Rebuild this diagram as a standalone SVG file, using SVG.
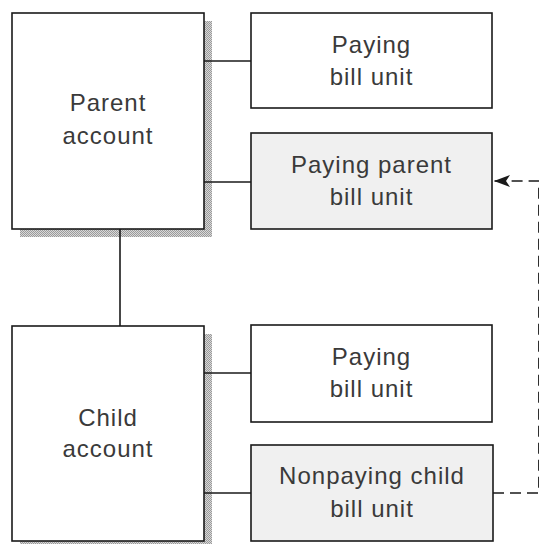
<svg xmlns="http://www.w3.org/2000/svg" width="539" height="544" viewBox="0 0 539 544">
  <style>
    .box { stroke: #1a1a1a; stroke-width: 1.6; }
    .acct { fill: #ffffff; }
    .unit { fill: #ffffff; }
    .unit-alt { fill: #f0f0f0; }
    .shadow { fill: url(#hatch); }
    .label { font-family: "Liberation Sans", Arial, sans-serif; font-size: 24px; letter-spacing: 1px; fill: #3a3a3a; text-anchor: middle; }
    .link { stroke: #1a1a1a; stroke-width: 1.6; fill: none; }
    .dash { stroke: #1a1a1a; stroke-width: 1.4; fill: none; stroke-dasharray: 11 6; }
  </style>
  <defs>
    <pattern id="hatch" width="2" height="2" patternUnits="userSpaceOnUse">
      <rect width="2" height="2" fill="#d8d8d8"/>
      <rect width="1" height="1" fill="#9a9a9a"/>
      <rect x="1" y="1" width="1" height="1" fill="#9a9a9a"/>
    </pattern>
    <marker id="arrow" viewBox="0 0 16 12" refX="16" refY="6" markerWidth="16" markerHeight="12" markerUnits="userSpaceOnUse" orient="auto">
      <path d="M0,0 L16,6 L0,12 L4,6 Z" fill="#1a1a1a"/>
    </marker>
  </defs>

  <g id="parent-account">
    <rect class="shadow" x="20" y="21" width="192" height="216"/>
    <rect class="box acct" x="12" y="13" width="192" height="216"/>
    <text class="label" x="108" y="111">Parent</text>
    <text class="label" x="108" y="144">account</text>
  </g>

  <g id="paying-bill-unit-1">
    <rect class="box unit" x="251" y="13" width="241" height="95"/>
    <text class="label" x="371.5" y="53">Paying</text>
    <text class="label" x="371.5" y="85">bill unit</text>
  </g>

  <g id="paying-parent-bill-unit">
    <rect class="box unit-alt" x="251" y="133" width="241" height="96"/>
    <text class="label" x="371.5" y="173">Paying parent</text>
    <text class="label" x="371.5" y="205">bill unit</text>
  </g>

  <g id="child-account">
    <rect class="shadow" x="20" y="334" width="192" height="215"/>
    <rect class="box acct" x="12" y="326" width="192" height="215"/>
    <text class="label" x="108" y="426">Child</text>
    <text class="label" x="108" y="457">account</text>
  </g>

  <g id="paying-bill-unit-2">
    <rect class="box unit" x="251" y="325" width="241" height="97"/>
    <text class="label" x="371.5" y="365">Paying</text>
    <text class="label" x="371.5" y="397">bill unit</text>
  </g>

  <g id="nonpaying-child-bill-unit">
    <rect class="box unit-alt" x="251" y="445" width="242" height="96"/>
    <text class="label" x="372" y="484">Nonpaying child</text>
    <text class="label" x="372" y="517">bill unit</text>
  </g>

  <!-- links drawn on top so they cross the drop shadows -->
  <g id="connectors">
    <line class="link" x1="204" y1="61" x2="251" y2="61"/>
    <line class="link" x1="204" y1="182" x2="251" y2="182"/>
    <line class="link" x1="120" y1="229" x2="120" y2="326"/>
    <line class="link" x1="204" y1="373" x2="251" y2="373"/>
    <line class="link" x1="204" y1="493" x2="251" y2="493"/>
    <path class="dash" d="M493,493 H538.8 V181 H494" marker-end="url(#arrow)"/>
  </g>
</svg>
